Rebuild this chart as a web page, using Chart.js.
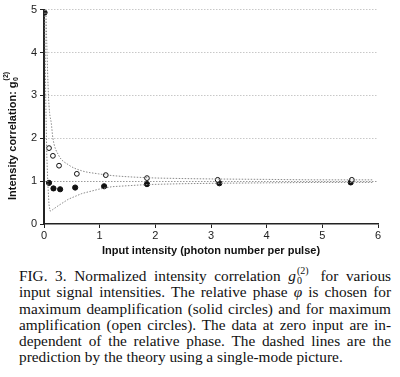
<!DOCTYPE html>
<html>
<head>
<meta charset="utf-8">
<script src="https://cdn.jsdelivr.net/npm/chart.js@4"></script>
<style>
  html, body { margin: 0; padding: 0; background: #fff; }
  body { width: 400px; height: 377px; position: relative; overflow: hidden; }
  #wrap { position: absolute; left: 0; top: 0; width: 400px; height: 262px; }
  #cap {
    position: absolute; left: 19px; top: 268px; width: 372px;
    font-family: "Liberation Serif", "DejaVu Serif", serif;
    font-size: 15.3px; line-height: 16.3px; color: #111;
  }
  #cap .ln { display: block; height: 16.3px; text-align: justify; text-align-last: justify; white-space: nowrap; }
  #cap .ln.last { text-align-last: left; }
  .ss { display: inline-block; position: relative; width: 17px; height: 10px; }
  .ss .sup { position: absolute; left: 1px; top: -5px; font-size: 10px; line-height: 10px; }
  .ss .sub { position: absolute; left: 1px; top: 5px; font-size: 10px; line-height: 10px; }
</style>
</head>
<body>
<div id="wrap"><canvas id="c" width="400" height="262"></canvas></div>
<div id="cap">
  <span class="ln">FIG. 3. Normalized intensity correlation <i>g</i><span class="ss"><span class="sup">(2)</span><span class="sub">0</span></span> for various</span>
  <span class="ln">input signal intensities. The relative phase <i>φ</i> is chosen for</span>
  <span class="ln">maximum deamplification (solid circles) and for maximum</span>
  <span class="ln">amplification (open circles). The data at zero input are in-</span>
  <span class="ln">dependent of the relative phase. The dashed lines are the</span>
  <span class="ln last">prediction by the theory using a single-mode picture.</span>
</div>
<script>
// ---- data ----
const xTicks = [0, 1, 2, 3, 4, 5, 6];
const yTicks = [0, 1, 2, 3, 4, 5];

const openX  = [0.09, 0.16, 0.27, 0.59, 1.11, 1.85, 3.12, 5.53];
const openY  = [1.77, 1.59, 1.36, 1.17, 1.14, 1.07, 1.03, 1.03];

const solidX = [0.09, 0.17, 0.29, 0.56, 1.08, 1.85, 3.15, 5.51];
const solidY = [0.96, 0.83, 0.81, 0.85, 0.88, 0.93, 0.95, 0.97];

const zeroX = [0.01];
const zeroY = [4.93];

const upperX = [0.035, 0.05, 0.08, 0.10, 0.13, 0.16, 0.26, 0.44, 0.68, 0.98, 1.22, 1.85, 2.5, 3.1, 4.0, 5.0, 5.9];
const upperY = [5.0, 4.2, 3.0, 2.6, 2.36, 2.0, 1.61, 1.38, 1.24, 1.17, 1.13, 1.08, 1.06, 1.05, 1.04, 1.03, 1.03];

const lowerX = [0.015, 0.03, 0.05, 0.07, 0.09, 0.11, 0.15, 0.26, 0.44, 0.68, 0.98, 1.22, 1.85, 2.5, 3.1, 4.0, 5.0, 5.9];
const lowerY = [5.0, 3.0, 1.6, 0.92, 0.45, 0.30, 0.33, 0.43, 0.58, 0.71, 0.81, 0.87, 0.92, 0.94, 0.95, 0.96, 0.97, 0.97];

const xTitle = "Input intensity (photon number per pulse)";
const yTitleMain = "Intensity correlation: g";
const yTitleSub = "0";
const yTitleSup = "(2)";

const pts = (xs, ys) => xs.map((x, i) => ({ x: x, y: ys[i] }));

const titlePlugin = {
  id: 'titles',
  afterDraw(chart) {
    const ctx = chart.ctx;
    const ca = chart.chartArea;
    ctx.save();
    ctx.fillStyle = '#111';
    // x title
    ctx.font = 'bold 11px "Liberation Sans", Arial, sans-serif';
    ctx.textAlign = 'center';
    ctx.textBaseline = 'middle';
    ctx.fillText(xTitle, (ca.left + ca.right) / 2, 251);
    // y title (rotated)
    ctx.translate(13, 200);
    ctx.rotate(-Math.PI / 2);
    ctx.textAlign = 'left';
    ctx.textBaseline = 'middle';
    ctx.font = 'bold 11px "Liberation Sans", Arial, sans-serif';
    ctx.fillText(yTitleMain, 0, 0);
    const w = ctx.measureText(yTitleMain).width;
    ctx.font = 'bold 7px "Liberation Sans", Arial, sans-serif';
    ctx.fillText(yTitleSub, w + 0.5, 3);
    ctx.fillText(yTitleSup, w + 1, -7);
    ctx.restore();
  }
};

new Chart(document.getElementById('c'), {
  type: 'scatter',
  data: {
    datasets: [
      { label: 'upper theory', data: pts(upperX, upperY), showLine: true, borderColor: '#8a8a8a', borderWidth: 1, borderDash: [1.5, 1.5], pointRadius: 0, tension: 0.3, cubicInterpolationMode: 'monotone' },
      { label: 'lower theory', data: pts(lowerX, lowerY), showLine: true, borderColor: '#8a8a8a', borderWidth: 1, borderDash: [1.5, 1.5], pointRadius: 0, tension: 0 },
      { label: 'open', data: pts(openX, openY), pointRadius: 2.4, pointBackgroundColor: '#fff', pointBorderColor: '#111', pointBorderWidth: 1 },
      { label: 'solid', data: pts(solidX, solidY), pointRadius: 2.6, pointBackgroundColor: '#111', pointBorderColor: '#111', pointBorderWidth: 1 },
      { label: 'zero', data: pts(zeroX, zeroY), pointRadius: 2.6, pointBackgroundColor: '#111', pointBorderColor: '#111', pointBorderWidth: 1 }
    ]
  },
  options: {
    responsive: false,
    animation: false,
    events: [],
    layout: { padding: { left: 0, top: 4, right: 22, bottom: 0 } },
    plugins: { legend: { display: false }, tooltip: { enabled: false } },
    scales: {
      x: {
        type: 'linear', min: 0, max: 6,
        afterFit(s) { s.height = 38; },
        afterBuildTicks(s) { s.ticks = xTicks.map(v => ({ value: v })); },
        grid: { drawOnChartArea: false, drawTicks: true, tickLength: 4, tickColor: '#222', tickWidth: 1 },
        border: { display: true, color: '#222', width: 1.5 },
        ticks: { padding: 1, color: '#222', font: { family: '"Liberation Sans", Arial, sans-serif', size: 11 } }
      },
      y: {
        type: 'linear', min: 0, max: 5,
        afterFit(s) { s.width = 44; },
        afterBuildTicks(s) { s.ticks = yTicks.map(v => ({ value: v })); },
        grid: {
          drawOnChartArea: true, drawTicks: true, tickLength: 4, tickWidth: 1,
          tickColor: '#222',
          color: (c) => c.tick && c.tick.value === 0 ? 'rgba(0,0,0,0)' : (c.tick && c.tick.value === 1 ? '#9a9a9a' : '#c8c8c8'),
          lineWidth: 1
        },
        border: { display: true, color: '#222', width: 2, dash: [1.5, 1.5] },
        ticks: { padding: 3, color: '#222', font: { family: '"Liberation Sans", Arial, sans-serif', size: 11 } }
      }
    }
  },
  plugins: [titlePlugin]
});
</script>
</body>
</html>
